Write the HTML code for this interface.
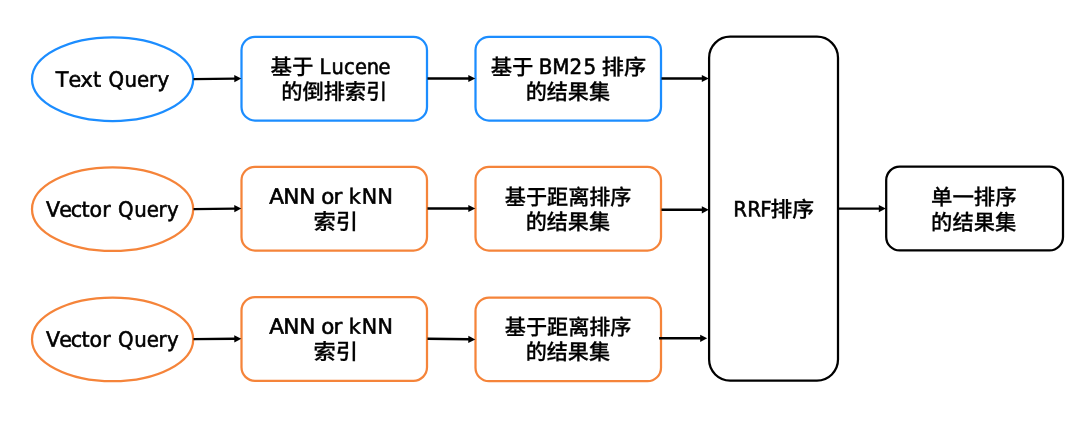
<!DOCTYPE html>
<html lang="zh-CN">
<head>
<meta charset="utf-8">
<style>
html,body{margin:0;padding:0;background:#fff;}
body{width:1080px;height:422px;overflow:hidden;position:relative;}
svg{position:absolute;left:0;top:0;display:block;will-change:transform;}
text{fill:#000;white-space:pre;text-rendering:geometricPrecision;}
.e{font-family:"DejaVu Sans","Noto Sans CJK SC",sans-serif;font-size:21.5px;stroke:#000;stroke-width:0.6px;}
.c{font-family:"Liberation Sans","Noto Sans CJK SC",sans-serif;font-size:21.2px;font-weight:500;stroke:#000;stroke-width:0.25px;}
.b{fill:#fff;stroke:#1c8dff;stroke-width:2.25;}
.o{fill:#fff;stroke:#f5843a;stroke-width:2.25;}
.k{fill:#fff;stroke:#000;stroke-width:2.25;}
.l{stroke:#000;stroke-width:2.4;fill:none;}
.h{fill:#000;}
</style>
</head>
<body>
<svg width="1080" height="422" viewBox="0 0 1080 422">
<g>
<ellipse class="b" cx="112.6" cy="79.15" rx="80.6" ry="41.85"/>
<ellipse class="o" cx="112.6" cy="209.15" rx="80.6" ry="41.85"/>
<ellipse class="o" cx="112.6" cy="339.4" rx="80.6" ry="41.8"/>
<rect class="b" x="241.5" y="36.8" width="185.5" height="83.7" rx="13.5" ry="13.5"/>
<rect class="b" x="475.5" y="36.8" width="185.5" height="83.7" rx="13.5" ry="13.5"/>
<rect class="o" x="241.5" y="166.8" width="185.5" height="83.7" rx="13.5" ry="13.5"/>
<rect class="o" x="475.5" y="166.8" width="185.5" height="83.7" rx="13.5" ry="13.5"/>
<rect class="o" x="241.5" y="297" width="185.5" height="83.8" rx="13.5" ry="13.5"/>
<rect class="o" x="475.5" y="297.6" width="185.5" height="83.6" rx="13.5" ry="13.5"/>
<rect class="k" x="709.1" y="36.7" width="128.9" height="343.9" rx="21" ry="21"/>
<rect class="k" x="886.2" y="166.7" width="176.8" height="83.7" rx="13.5" ry="13.5"/>
</g>
<g>
<path class="l" d="M193.5 79.1L235.3 78.58"/><path class="h" d="M241.3 78.5L234.35 82.19L234.26 74.99Z"/>
<path class="l" d="M427.5 78.5L469.3 78.5"/><path class="h" d="M475.3 78.5L468.3 82.1L468.3 74.9Z"/>
<path class="l" d="M661.5 78.5L702.8 78.5"/><path class="h" d="M708.8 78.5L701.8 82.1L701.8 74.9Z"/>
<path class="l" d="M193.5 209.1L235.3 208.58"/><path class="h" d="M241.3 208.5L234.35 212.19L234.26 204.99Z"/>
<path class="l" d="M427.5 208.5L469.3 208.5"/><path class="h" d="M475.3 208.5L468.3 212.1L468.3 204.9Z"/>
<path class="l" d="M661.5 209.8L702.8 209.8"/><path class="h" d="M708.8 209.8L701.8 213.4L701.8 206.2Z"/>
<path class="l" d="M193.5 339.15L235.3 338.8"/><path class="h" d="M241.3 338.75L234.33 342.41L234.27 335.21Z"/>
<path class="l" d="M427.5 338.8L469.3 339.32"/><path class="h" d="M475.3 339.4L468.26 342.91L468.35 335.71Z"/>
<path class="l" d="M659 338.2L701.2 338.29"/><path class="h" d="M707.2 338.3L700.19 341.89L700.21 334.69Z"/>
<path class="l" d="M838.5 208.6L879.8 208.6"/><path class="h" d="M885.8 208.6L878.8 212.2L878.8 205Z"/>
</g>
<g>
<g>
<text class="e" transform="translate(55.78 86.7) rotate(0.05) scale(0.9617 0.985)" x="0 13.34 25.79 38.82" y="0">Text</text> <text class="e" transform="translate(108.46 86.7) rotate(0.05) scale(0.9176 0.985)" x="0 17.58 31.24 44.21 53.39" y="0">Query</text>
</g>
<g>
<text class="c" transform="translate(270.54 74.5) rotate(0.05) scale(1.0141 1.015)">基于</text> <text class="e" transform="translate(319.39 73.9) rotate(0.05) scale(0.9046 0.985)" x="0 13.39 27.32 39.5 52.24 65.48" y="0">Lucene</text>
<text class="c" transform="translate(281.22 99.25) rotate(0.05) scale(1.0012 1.015)">的倒排索引</text>
</g>
<g>
<text class="c" transform="translate(490.65 74.75) rotate(0.05) scale(1.0092 1.015)">基于</text> <text class="e" transform="translate(538.78 73.9) rotate(0.05) scale(0.9268 0.985)" x="0 14.67 33.06 48.19" y="0">BM25</text> <text class="c" transform="translate(601.8 74.68) rotate(0.05) scale(1.0459 1.015)">排序</text>
<text class="c" transform="translate(525.63 99.5) rotate(0.05) scale(0.9964 1.015)">的结果集</text>
</g>
<g>
<text class="e" transform="translate(45.96 216.7) rotate(0.05) scale(0.9575 0.985)" x="0 13.94 25.81 37.05 45.54 58.74" y="0">Vector</text> <text class="e" transform="translate(118.06 216.7) rotate(0.05) scale(0.9176 0.985)" x="0 17.58 31.24 44.21 53.39" y="0">Query</text>
</g>
<g>
<text class="e" transform="translate(269.19 203.8) rotate(0.05) scale(1.0009 0.985)" x="0 14.08 29.99" y="0">ANN</text> <text class="e" transform="translate(321.19 203.8) rotate(0.05) scale(0.9950 0.985)" x="0 12.36" y="0">or</text> <text class="e" transform="translate(348.74 203.8) rotate(0.05) scale(0.9584 0.985)" x="0 13.67 29.97" y="0">kNN</text>
<text class="c" transform="translate(313.43 229.23) rotate(0.05) scale(1.0490 1.015)">索引</text>
</g>
<g>
<text class="c" transform="translate(504.8 204.75) rotate(0.05) scale(0.9964 1.015)">基于距离排序</text>
<text class="c" transform="translate(525.63 229.5) rotate(0.05) scale(0.9964 1.015)">的结果集</text>
</g>
<g>
<text class="e" transform="translate(45.96 346.7) rotate(0.05) scale(0.9575 0.985)" x="0 13.94 25.81 37.05 45.54 58.74" y="0">Vector</text> <text class="e" transform="translate(118.06 346.7) rotate(0.05) scale(0.9176 0.985)" x="0 17.58 31.24 44.21 53.39" y="0">Query</text>
</g>
<g>
<text class="e" transform="translate(269.19 333.8) rotate(0.05) scale(1.0009 0.985)" x="0 14.08 29.99" y="0">ANN</text> <text class="e" transform="translate(321.19 333.8) rotate(0.05) scale(0.9950 0.985)" x="0 12.36" y="0">or</text> <text class="e" transform="translate(348.74 333.8) rotate(0.05) scale(0.9584 0.985)" x="0 13.67 29.97" y="0">kNN</text>
<text class="c" transform="translate(313.43 359.23) rotate(0.05) scale(1.0490 1.015)">索引</text>
</g>
<g>
<text class="c" transform="translate(504.8 334.75) rotate(0.05) scale(0.9964 1.015)">基于距离排序</text>
<text class="c" transform="translate(525.63 359.5) rotate(0.05) scale(0.9964 1.015)">的结果集</text>
</g>
<g>
<text class="e" transform="translate(733.19 216.4) rotate(0.05) scale(0.9193 0.985)" x="0 15.18 29.35" y="0">RRF</text><text class="c" transform="translate(770.41 217.06) rotate(0.05) scale(1.0287 1.015)">排序</text>
</g>
<g>
<text class="c" transform="translate(931.04 204.73) rotate(0.05) scale(1.0106 1.015)">单一排序</text>
<text class="c" transform="translate(931.12 230.02) rotate(0.05) scale(1.0036 1.015)">的结果集</text>
</g>
</g>
</svg>
</body>
</html>
